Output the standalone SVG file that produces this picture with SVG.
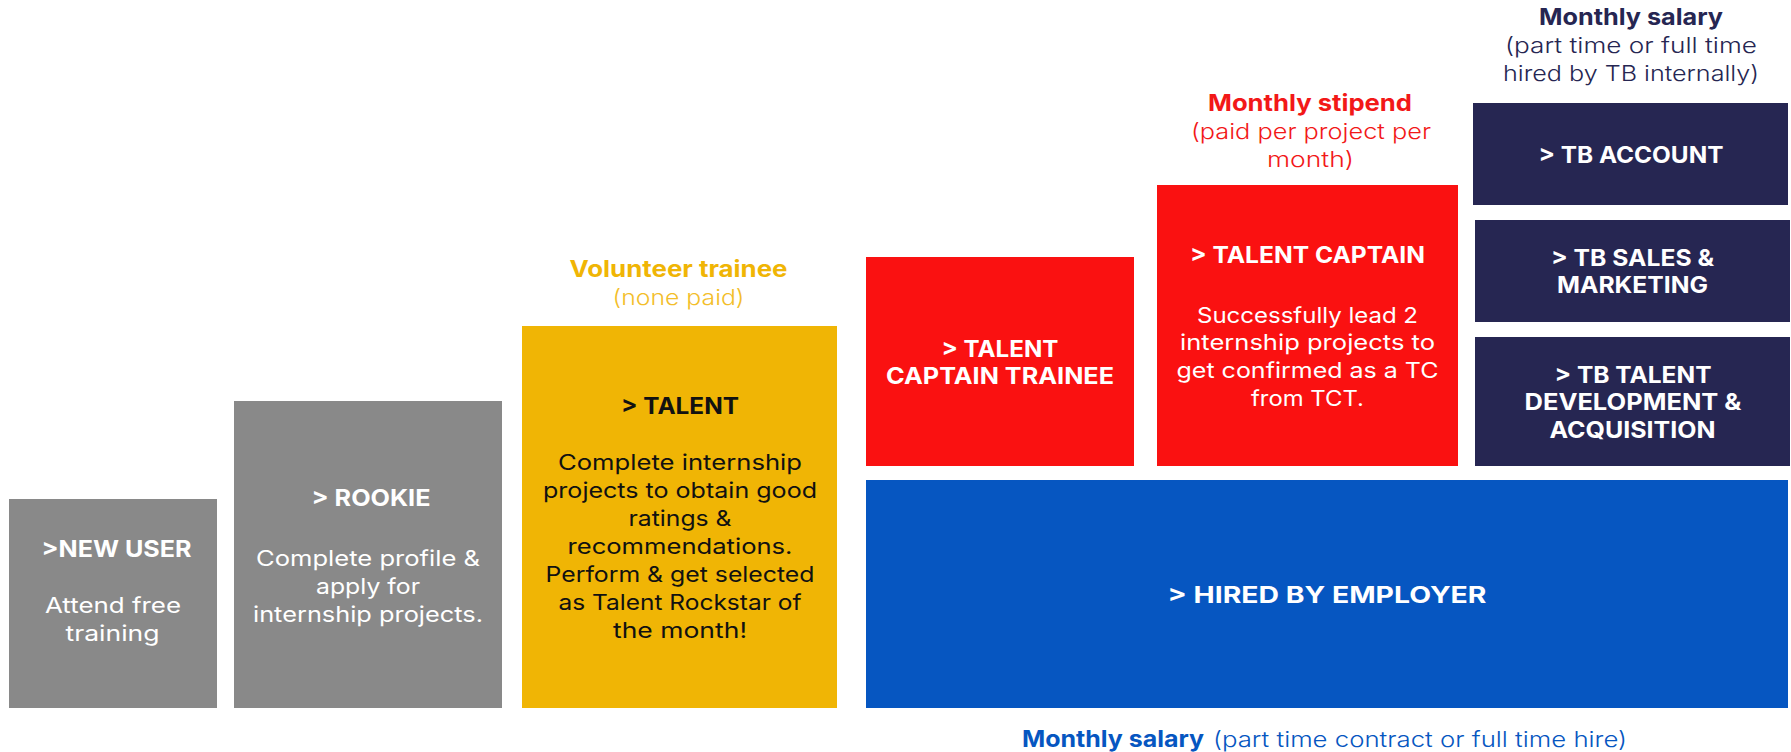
<svg xmlns="http://www.w3.org/2000/svg" width="1791" height="752" viewBox="0 0 1791 752">
<style>
text{font-family:Inter,"Open Sans","Liberation Sans",sans-serif;text-anchor:middle}
.t{font-weight:700;font-size:23px;fill:#fff}
.b{font-weight:400;font-size:21.5px;fill:#fff}
.dk{fill:#111}
.lb{font-weight:700;font-size:23px}
.ll{font-weight:300;font-size:22px}
</style>
<rect width="1791" height="752" fill="#fff"/>
<g id="labels">
<text class="lb" x="678.5" y="277" fill="#F0B505" textLength="218" lengthAdjust="spacingAndGlyphs">Volunteer trainee</text>
<text class="ll" x="678.5" y="305" fill="#F3BE2A" textLength="132" lengthAdjust="spacingAndGlyphs">(none paid)</text>
<text class="lb" x="1310" y="111" fill="#F21818" textLength="204" lengthAdjust="spacingAndGlyphs">Monthly stipend</text>
<text class="ll" x="1311" y="139" fill="#F21818" textLength="240" lengthAdjust="spacingAndGlyphs">(paid per project per</text>
<text class="ll" x="1310.5" y="167" fill="#F21818" textLength="87" lengthAdjust="spacingAndGlyphs">month)</text>
<text class="lb" x="1631" y="25" fill="#262652" textLength="184" lengthAdjust="spacingAndGlyphs">Monthly salary</text>
<text class="ll" x="1631" y="53" fill="#262652" textLength="252" lengthAdjust="spacingAndGlyphs">(part time or full time</text>
<text class="ll" x="1631" y="81" fill="#262652" textLength="256" lengthAdjust="spacingAndGlyphs">hired by TB internally)</text>
<text x="1113" y="747" fill="#0656C1" style="font-size:23px;font-weight:700" textLength="182" lengthAdjust="spacingAndGlyphs">Monthly salary</text>
<text x="1420" y="747" fill="#0656C1" style="font-size:22px;font-weight:300" textLength="414" lengthAdjust="spacingAndGlyphs">(part time contract or full time hire)</text>
</g>
<g id="new-user">
<rect x="9" y="499" width="208" height="209" fill="#898989"/>
<text class="t" x="116.5" y="557" textLength="150" lengthAdjust="spacingAndGlyphs">&gt;NEW USER</text>
<text class="b" x="113" y="613" textLength="136" lengthAdjust="spacingAndGlyphs">Attend free</text>
<text class="b" x="112.5" y="641" textLength="94" lengthAdjust="spacingAndGlyphs">training</text>
</g>
<g id="rookie">
<rect x="234" y="401" width="268" height="307" fill="#898989"/>
<text class="t" x="371" y="506" textLength="119" lengthAdjust="spacingAndGlyphs">&gt; ROOKIE</text>
<text class="b" x="368" y="566" textLength="224" lengthAdjust="spacingAndGlyphs">Complete profile &amp;</text>
<text class="b" x="368" y="594" textLength="104" lengthAdjust="spacingAndGlyphs">apply for</text>
<text class="b" x="368" y="622" textLength="230" lengthAdjust="spacingAndGlyphs">internship projects.</text>
</g>
<g id="talent">
<rect x="522" y="326" width="315" height="382" fill="#F0B505"/>
<text class="t dk" x="680" y="414" textLength="118" lengthAdjust="spacingAndGlyphs">&gt; TALENT</text>
<text class="b dk" x="680" y="470" textLength="244" lengthAdjust="spacingAndGlyphs">Complete internship</text>
<text class="b dk" x="680" y="498" textLength="274" lengthAdjust="spacingAndGlyphs">projects to obtain good</text>
<text class="b dk" x="680" y="526" textLength="103" lengthAdjust="spacingAndGlyphs">ratings &amp;</text>
<text class="b dk" x="680" y="554" textLength="225" lengthAdjust="spacingAndGlyphs">recommendations.</text>
<text class="b dk" x="680" y="582" textLength="269" lengthAdjust="spacingAndGlyphs">Perform &amp; get selected</text>
<text class="b dk" x="680" y="610" textLength="243" lengthAdjust="spacingAndGlyphs">as Talent Rockstar of</text>
<text class="b dk" x="680" y="638" textLength="134" lengthAdjust="spacingAndGlyphs">the month!</text>
</g>
<g id="talent-captain-trainee">
<rect x="866" y="257" width="268" height="209" fill="#FA1111"/>
<text class="t" x="1000" y="357" textLength="117" lengthAdjust="spacingAndGlyphs">&gt; TALENT</text>
<text class="t" x="1000" y="384" textLength="228" lengthAdjust="spacingAndGlyphs">CAPTAIN TRAINEE</text>
</g>
<g id="talent-captain">
<rect x="1157" y="185" width="301" height="281" fill="#FA1111"/>
<text class="t" x="1307.5" y="263" textLength="235" lengthAdjust="spacingAndGlyphs">&gt; TALENT CAPTAIN</text>
<text class="b" x="1307.5" y="323" textLength="221" lengthAdjust="spacingAndGlyphs">Successfully lead 2</text>
<text class="b" x="1307.5" y="350" textLength="255" lengthAdjust="spacingAndGlyphs">internship projects to</text>
<text class="b" x="1307.5" y="378" textLength="262" lengthAdjust="spacingAndGlyphs">get confirmed as a TC</text>
<text class="b" x="1307.5" y="406" textLength="113" lengthAdjust="spacingAndGlyphs">from TCT.</text>
</g>
<g id="hired-by-employer">
<rect x="866" y="480" width="922" height="228" fill="#0656C1"/>
<text class="t" x="1327" y="603" textLength="319" lengthAdjust="spacingAndGlyphs">&gt; HIRED BY EMPLOYER</text>
</g>
<g id="tb-account">
<rect x="1473" y="103" width="315" height="102" fill="#262652"/>
<text class="t" x="1631" y="163" textLength="185" lengthAdjust="spacingAndGlyphs">&gt; TB ACCOUNT</text>
</g>
<g id="tb-sales">
<rect x="1475" y="220" width="315" height="102" fill="#262652"/>
<text class="t" x="1632.5" y="266" textLength="163" lengthAdjust="spacingAndGlyphs">&gt; TB SALES &amp;</text>
<text class="t" x="1632.5" y="293" textLength="151" lengthAdjust="spacingAndGlyphs">MARKETING</text>
</g>
<g id="tb-talent">
<rect x="1475" y="337" width="315" height="129" fill="#262652"/>
<text class="t" x="1633" y="383" textLength="157" lengthAdjust="spacingAndGlyphs">&gt; TB TALENT</text>
<text class="t" x="1633" y="410" textLength="217" lengthAdjust="spacingAndGlyphs">DEVELOPMENT &amp;</text>
<text class="t" x="1632.5" y="438" textLength="166" lengthAdjust="spacingAndGlyphs">ACQUISITION</text>
</g>
<g id="connectors"/>
</svg>
